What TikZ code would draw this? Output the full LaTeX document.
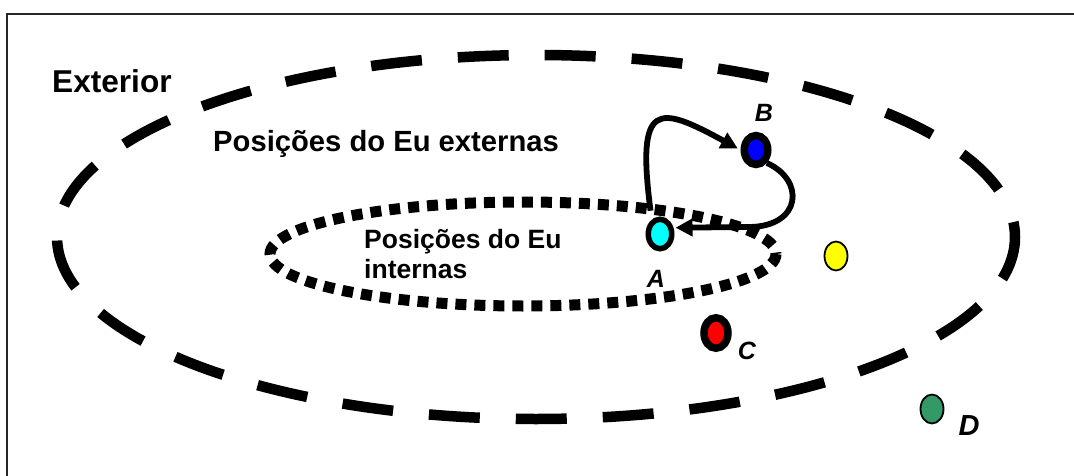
\documentclass[tikz,border=0pt]{standalone}
\usepackage{fontspec}
\setmainfont{Liberation Sans}
\usetikzlibrary{shapes.geometric,arrows.meta}
\definecolor{dgreen}{RGB}{51,153,102}
\definecolor{pcyan}{RGB}{0,255,255}
\definecolor{pblue}{RGB}{0,0,255}
\definecolor{pred}{RGB}{255,0,0}
\definecolor{pyellow}{RGB}{255,255,0}
\begin{document}
\begin{tikzpicture}[x=1pt,y=-1pt,
  pt/.style={ellipse, draw=black, inner sep=0pt},
  ring/.style={pt, line width=7.5pt, minimum width=23.5pt, minimum height=29pt},
  thinpt/.style={pt, line width=1.8pt, minimum width=23pt, minimum height=29pt},
  lab/.style={font=\bfseries\itshape\fontsize{25}{30}\selectfont, inner sep=0pt},
  big/.style={font=\bfseries\fontsize{29.2}{35}\selectfont, anchor=base west, inner sep=0pt},
  conn/.style={line width=5.8pt, -{Triangle[length=17pt,width=17pt]}}
]
\useasboundingbox (0,0) rectangle (1074,476);
\fill[white] (0,0) rectangle (1074,476);
% frame
\draw[line width=2pt, black!85] (7,490) -- (7,14) -- (1090,14);
% outer dashed ellipse
\draw[line width=10.5pt, dash pattern=on 51pt off 36pt, dash phase=7pt] (536,237) ellipse [x radius=479, y radius=182];
% inner dotted ellipse
\draw[line width=11pt, dash pattern=on 11pt off 8pt] (523,254) ellipse [x radius=253, y radius=52];
% texts
\node[big, font=\bfseries\fontsize{31.6}{38}\selectfont] (ext) at (52,93) {Exterior};
\node[big] (pext) at (213,152) {Posições do Eu externas};
\node[big, font=\bfseries\fontsize{26.5}{32}\selectfont] (pint1) at (364,248) {Posições do Eu};
\node[big, font=\bfseries\fontsize{26.5}{32}\selectfont] (pint2) at (364,278) {internas};
% points
\node[pt, fill=pcyan, line width=5.5pt, minimum width=23.5pt, minimum height=29.5pt] (A) at (660,234) {};
\node[ring, fill=pblue] (B) at (756,150) {};
\node[ring, fill=pred, minimum width=24pt, minimum height=30.5pt] (C) at (716,333) {};
\node[thinpt, fill=pyellow] (Y) at (836,256) {};
\node[thinpt, fill=dgreen] (D) at (932,409) {};
% labels
\node[lab] (la) at (656,279) {A};
\node[lab] (lb) at (764,113) {B};
\node[lab] (lc) at (747,351) {C};
\node[lab, font=\bfseries\itshape\fontsize{29}{35}\selectfont] (ld) at (969,426) {D};
% connectors
\draw[conn, shorten <=9pt, shorten >=3pt] (A.120) .. controls (636,100) and (658,105) .. (B.west);
\draw[conn, shorten >=2pt] (B.-50) .. controls (805,180) and (802,226) .. (750,227) -- (A.25);
\end{tikzpicture}
\end{document}
